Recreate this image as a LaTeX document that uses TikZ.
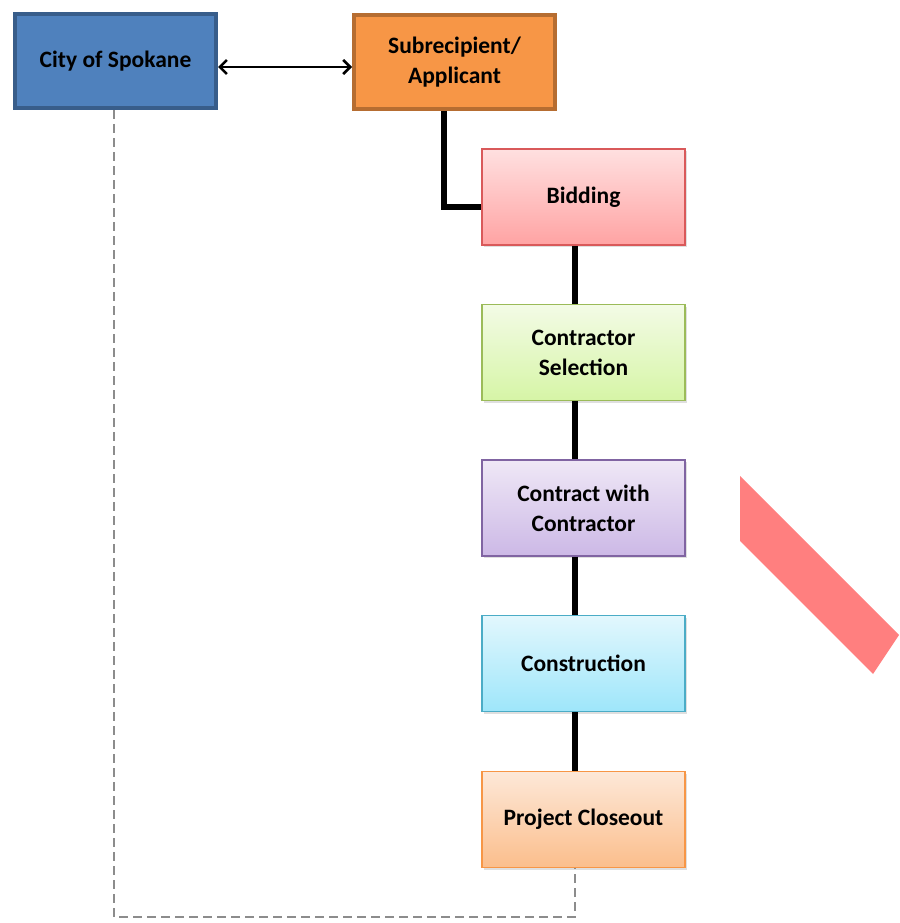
\documentclass[tikz,border=0pt]{standalone}
\usepackage{fontspec}
\setmainfont{Carlito}
\usetikzlibrary{arrows.meta,shadows}
\definecolor{cityfill}{HTML}{4F81BD}
\definecolor{cityline}{HTML}{385D8A}
\definecolor{subfill}{HTML}{F79646}
\definecolor{subline}{HTML}{B66D31}
\definecolor{stripe}{HTML}{FF7F7F}
\definecolor{dashgray}{HTML}{8C8C8C}
\tikzset{
  topbox/.style={draw, line width=4pt, minimum width=201pt, minimum height=94pt, inner sep=0pt, align=center,
    font=\bfseries\fontsize{23.5}{30}\selectfont},
  stepbox/.style={draw, line width=1.3pt, minimum width=203pt, minimum height=96pt, inner sep=0pt, align=center,
    font=\bfseries\fontsize{23.5}{30}\selectfont,
    drop shadow={opacity=0.25, shadow xshift=2pt, shadow yshift=-2pt}},
  link/.style={line width=5.5pt, black},
  dashlink/.style={line width=2.8pt, color=dashgray, dash pattern=on 9pt off 5pt},
}
\begin{document}
\begin{tikzpicture}[x=1pt,y=-1pt]
\useasboundingbox (0,0) rectangle (899,923);
\fill[stripe] (740,476) -- (899,635) -- (873,674) -- (740,541) -- cycle;

\node[topbox, fill=cityfill, draw=cityline] (city) at (115.5,61) {\raisebox{-2pt}{City of Spokane}};
\node[topbox, fill=subfill, draw=subline] (sub) at (454.5,62) {Subrecipient/\\Applicant};

\node[stepbox, top color={rgb,255:red,255;green,224;blue,224}, bottom color={rgb,255:red,255;green,163;blue,163}, draw={rgb,255:red,217;green,89;blue,90}] (bid) at (583.5,197) {\raisebox{-2pt}{Bidding}};
\node[stepbox, top color={rgb,255:red,243;green,251;blue,230}, bottom color={rgb,255:red,214;green,245;blue,166}, draw={rgb,255:red,155;green,187;blue,89}] (sel) at (583.5,352.5) {Contractor\\Selection};
\node[stepbox, top color={rgb,255:red,239;green,232;blue,246}, bottom color={rgb,255:red,204;green,184;blue,230}, draw={rgb,255:red,128;green,100;blue,162}] (con) at (583.5,508) {Contract with\\Contractor};
\node[stepbox, top color={rgb,255:red,226;green,247;blue,253}, bottom color={rgb,255:red,158;green,230;blue,250}, draw={rgb,255:red,75;green,172;blue,198}] (cons) at (583.5,663.5) {\raisebox{-2pt}{Construction}};
\node[stepbox, top color={rgb,255:red,253;green,232;blue,216}, bottom color={rgb,255:red,251;green,190;blue,140}, draw={rgb,255:red,247;green,150;blue,70}] (close) at (583.5,819.5) {\raisebox{-2pt}{Project Closeout}};

\draw[line width=2.6pt, {Straight Barb[length=7pt,width=14pt]}-{Straight Barb[length=7pt,width=14pt]}] (city.east |- 0,67) -- (sub.west |- 0,67);

\draw[link] (sub.south -| 444,0) |- (bid.west |- 0,207);
\draw[link] (bid.south -| 575,0) -- (sel.north -| 575,0);
\draw[link] (sel.south -| 575,0) -- (con.north -| 575,0);
\draw[link] (con.south -| 575,0) -- (cons.north -| 575,0);
\draw[link] (cons.south -| 575,0) -- (close.north -| 575,0);

\coordinate (dl) at (114,917);
\coordinate (dr) at (575,917);
\draw[dashlink] (city.south -| 114,0) -- (dl) -- (dr) -- (close.south -| 575,0);
\end{tikzpicture}
\end{document}
